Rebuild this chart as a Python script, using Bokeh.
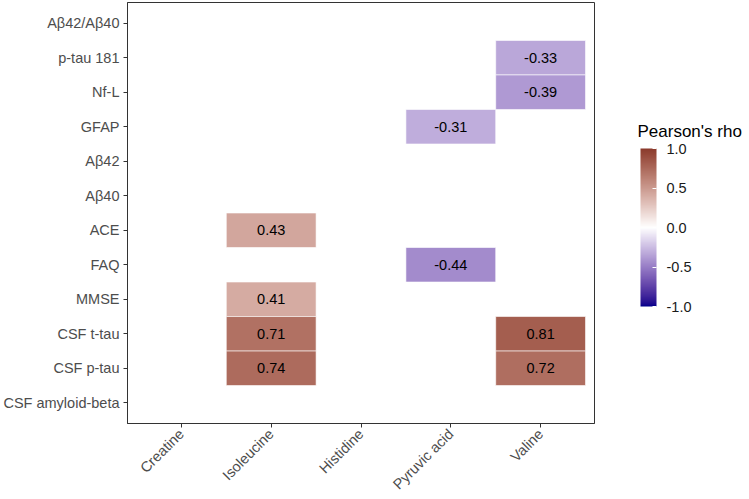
import numpy as np
from bokeh.plotting import figure
from bokeh.layouts import row
from bokeh.models import (ColumnDataSource, FactorRange, Range1d, LinearColorMapper, ColorBar,
                          FixedTicker, PrintfTickFormatter, Label)
from bokeh.core.properties import value
from bokeh.embed import file_html
from bokeh.resources import INLINE

# ---- data ----
metabolites = ["Creatine", "Isoleucine", "Histidine", "Pyruvic acid", "Valine"]
outcomes_top_to_bottom = ["A\u03b242/A\u03b240", "p-tau 181", "Nf-L", "GFAP", "A\u03b242", "A\u03b240",
                          "ACE", "FAQ", "MMSE", "CSF t-tau", "CSF p-tau", "CSF amyloid-beta"]
cell_metabolite = ["Isoleucine", "Isoleucine", "Isoleucine", "Isoleucine",
                   "Pyruvic acid", "Pyruvic acid",
                   "Valine", "Valine", "Valine", "Valine"]
cell_outcome = ["ACE", "MMSE", "CSF t-tau", "CSF p-tau",
                "GFAP", "FAQ",
                "p-tau 181", "Nf-L", "CSF t-tau", "CSF p-tau"]
cell_rho = [0.43, 0.41, 0.71, 0.74,
            -0.31, -0.44,
            -0.33, -0.39, 0.81, 0.72]
legend_ticks = [-1.0, -0.5, 0.0, 0.5, 1.0]
legend_title = "Pearson's rho"

# ---- diverging palette (Lab interpolation, like scale_fill_gradient2) ----
def hex_to_rgb(h):
    h = h.lstrip("#")
    return np.array([int(h[i:i + 2], 16) for i in (0, 2, 4)]) / 255.0

def srgb_to_lab(c):
    c = np.where(c <= 0.04045, c / 12.92, ((c + 0.055) / 1.055) ** 2.4)
    M = np.array([[0.4124, 0.3576, 0.1805], [0.2126, 0.7152, 0.0722], [0.0193, 0.1192, 0.9505]])
    xyz = M @ c / np.array([0.95047, 1.0, 1.08883])
    f = np.where(xyz > 0.008856, np.cbrt(xyz), 7.787 * xyz + 16 / 116)
    return np.array([116 * f[1] - 16, 500 * (f[0] - f[1]), 200 * (f[1] - f[2])])

def lab_to_hex(lab):
    L, a, b = lab
    fy = (L + 16) / 116
    fx = fy + a / 500
    fz = fy - b / 200
    f = np.array([fx, fy, fz])
    xyz = np.where(f ** 3 > 0.008856, f ** 3, (f - 16 / 116) / 7.787) * np.array([0.95047, 1.0, 1.08883])
    Minv = np.array([[3.2406, -1.5372, -0.4986], [-0.9689, 1.8758, 0.0415], [0.0557, -0.2040, 1.0570]])
    c = Minv @ xyz
    c = np.where(c <= 0.0031308, 12.92 * c, 1.055 * np.clip(c, 0, None) ** (1 / 2.4) - 0.055)
    c = np.clip(np.round(c * 255), 0, 255).astype(int)
    return "#%02x%02x%02x" % tuple(c)

low_lab = srgb_to_lab(hex_to_rgb("#00008B"))
mid_lab = srgb_to_lab(hex_to_rgb("#FFFFFF"))
high_lab = srgb_to_lab(hex_to_rgb("#8B3A2C"))
palette = []
for t in np.linspace(-1, 1, 256):
    if t < 0:
        palette.append(lab_to_hex(mid_lab + (low_lab - mid_lab) * (-t)))
    else:
        palette.append(lab_to_hex(mid_lab + (high_lab - mid_lab) * t))

mapper = LinearColorMapper(palette=palette, low=-1, high=1)

src = ColumnDataSource(dict(x=cell_metabolite, y=cell_outcome, rho=cell_rho,
                            label=["%.2f" % v for v in cell_rho]))

FONT = "Liberation Sans"
H = 497
p = figure(x_range=FactorRange(factors=metabolites, range_padding=0.1, range_padding_units="absolute"),
           y_range=FactorRange(factors=outcomes_top_to_bottom[::-1], range_padding=0.1,
                               range_padding_units="absolute"),
           frame_width=467, frame_height=421, width=604, height=H,
           output_backend="svg", toolbar_location=None,
           min_border_left=127, min_border_top=2, min_border_right=10, min_border_bottom=0)

p.rect(x="x", y="y", width=1, height=1, source=src,
       fill_color={"field": "rho", "transform": mapper},
       line_color="white", line_width=0.6)
p.text(x="x", y="y", text="label", source=src, text_align="center", text_baseline="middle",
       text_font=value(FONT), text_font_size="14.5px", text_color="black")

p.outline_line_color = "#333333"
p.outline_line_width = 1
p.grid.grid_line_color = None
for ax in (p.xaxis, p.yaxis):
    ax.axis_line_color = "#333333"
    ax.major_tick_line_color = "#333333"
    ax.major_tick_out = 4
    ax.major_tick_in = 0
    ax.major_label_text_font = FONT
    ax.major_label_text_font_size = "14.5px"
    ax.major_label_text_color = "#4D4D4D"
    ax.major_label_standoff = 4
p.xaxis.major_label_orientation = np.pi / 4

# ---- legend panel ----
lg = figure(width=143, height=H, x_range=Range1d(0, 1), y_range=Range1d(0, 1),
            x_axis_type=None, y_axis_type=None, output_backend="svg", toolbar_location=None,
            min_border=0, min_border_left=0, min_border_right=0, min_border_top=0,
            min_border_bottom=0)
lg.outline_line_color = None
lg.grid.grid_line_color = None

cb = ColorBar(color_mapper=mapper, ticker=FixedTicker(ticks=legend_ticks),
              formatter=PrintfTickFormatter(format="%.1f"),
              width=16, height=158, location=(36, 113),
              major_label_text_font=FONT, major_label_text_font_size="14.5px",
              major_label_text_color="#1A1A1A", label_standoff=10,
              major_tick_line_color="white", major_tick_in=4, major_tick_out=0,
              bar_line_color=None, border_line_color=None, background_fill_alpha=0,
              margin=0, padding=0)
lg.add_layout(cb, "center")

title_lbl = Label(x=33, y=288, x_units="screen", y_units="screen", text=legend_title,
                  text_font=FONT, text_font_size="17px",
                  text_color="black", text_baseline="alphabetic", text_align="left")
lg.add_layout(title_lbl)

layout = row(p, lg, spacing=0)
open("out.html", "w").write(file_html(layout, INLINE))
